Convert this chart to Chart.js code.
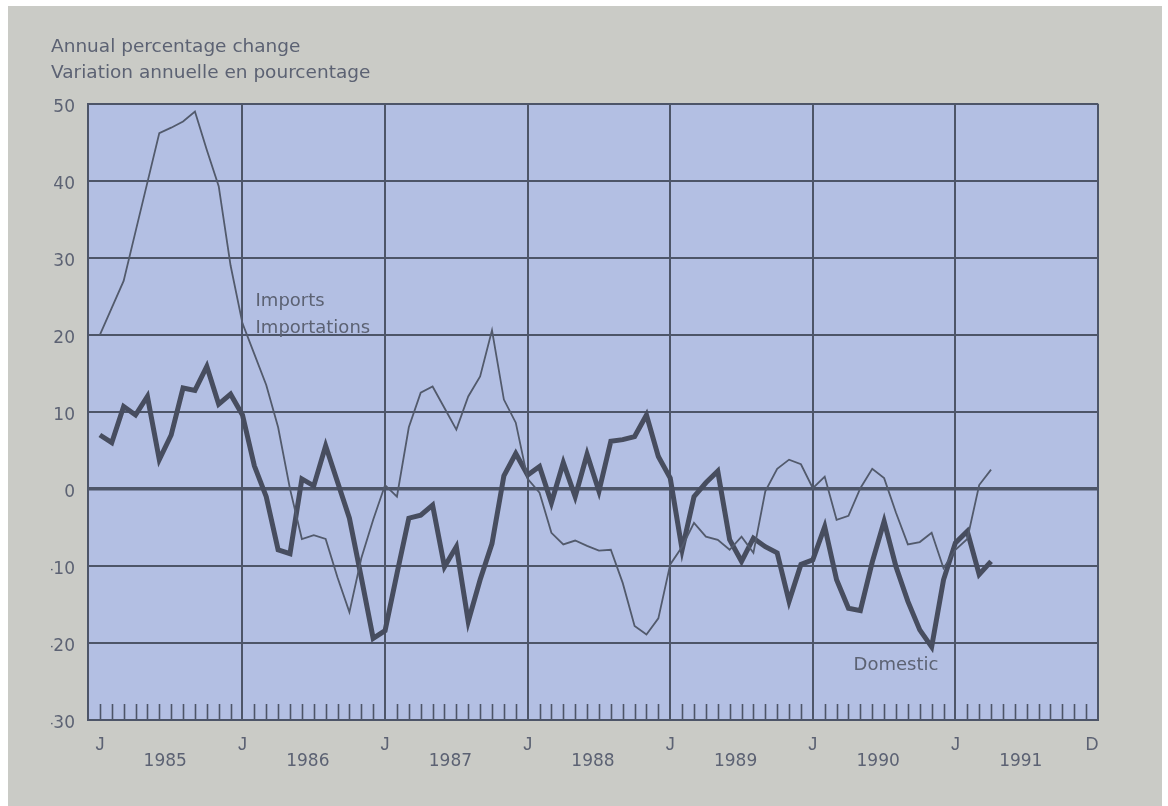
<!DOCTYPE html>
<html>
<head>
<meta charset="utf-8">
<script src="https://cdn.jsdelivr.net/npm/chart.js@4"></script>
<style>
  html, body { margin: 0; padding: 0; background: #ffffff; }
  #panel { position: absolute; left: 8px; top: 6px; width: 1154px; height: 800px; background: #cacbc6; }
  #chart { position: absolute; left: 0; top: 0; }
</style>
</head>
<body>
<div id="panel"></div>
<canvas id="chart" width="1168" height="806"></canvas>
<script>
// Monthly values, Jan 1985 (index 0) to Apr 1991
const domestic = [
  7, 6, 10.7, 9.6, 12, 3.8, 7, 13.1, 12.8, 15.9, 11, 12.3,
  9.6, 3, -1, -7.9, -8.4, 1.3, 0.4, 5.6, 0.9, -3.8, -11.5, -19.4,
  -18.4, -11, -3.8, -3.4, -2.1, -10.1, -7.5, -17.2, -11.8, -7.1, 1.7, 4.6,
  1.8, 2.9, -1.8, 3.4, -1, 4.5, -0.3, 6.2, 6.4, 6.8, 9.6, 4.2,
  1.4, -7.9, -1, 0.8, 2.3, -6.6, -9.4, -6.4, -7.5, -8.3, -14.6, -9.8,
  -9.2, -4.9, -11.8, -15.5, -15.8, -9.5, -4.2, -10.1, -14.6, -18.3, -20.5, -11.8,
  -7, -5.5, -11.1, -9.4
];
const imports = [
  20, 23.5, 27, 33.4, 39.8, 46.2, 46.9, 47.7, 49, 44, 39.3, 29,
  21.5, 17.5, 13.5, 8, 0, -6.5, -6, -6.5, -11.5, -16, -9, -4,
  0.5, -1, 8, 12.5, 13.3, 10.5, 7.7, 12, 14.6, 20.6, 11.6, 8.6,
  1.3, -0.5, -5.7, -7.2, -6.7, -7.4, -8, -7.9, -12.2, -17.8, -18.9, -16.8,
  -9.8, -7.5, -4.4, -6.2, -6.6, -7.9, -6.2, -8.3, -0.3, 2.6, 3.8, 3.2,
  0.1, 1.6, -4, -3.5, 0.1, 2.6, 1.4, -3.1, -7.2, -6.9, -5.7, -10.3,
  -7.9, -6.5, 0.5, 2.5
];
const years = ['1985', '1986', '1987', '1988', '1989', '1990', '1991'];
const yTicks = [-30, -20, -10, 0, 10, 20, 30, 40, 50];

const lineColor = '#4d5568';
const textColor = '#5c6273';

Chart.defaults.font.family = 'DejaVu Sans';
Chart.defaults.color = textColor;

// light blue plot background
const plotBg = {
  id: 'plotBg',
  beforeDraw(chart) {
    const { ctx, chartArea: a } = chart;
    ctx.save();
    ctx.fillStyle = '#b3bfe3';
    ctx.fillRect(a.left, a.top, a.right - a.left, a.bottom - a.top);
    ctx.restore();
  }
};

// small monthly tick marks along the bottom edge
const monthTicks = {
  id: 'monthTicks',
  beforeDatasetsDraw(chart) {
    const { ctx, chartArea: a, scales: { x } } = chart;
    ctx.save();
    ctx.strokeStyle = lineColor;
    ctx.lineWidth = 1.6;
    ctx.beginPath();
    for (let m = 0; m < 84; m++) {
      if (m > 0 && m % 12 === 0) continue;
      const px = Math.round(x.getPixelForValue(m)) + 0.5;
      ctx.moveTo(px, a.bottom);
      ctx.lineTo(px, a.bottom - 16);
    }
    ctx.stroke();
    ctx.restore();
  }
};

// series names written inside the plot
const seriesLabels = {
  id: 'seriesLabels',
  afterDatasetsDraw(chart) {
    const { ctx, scales: { x, y } } = chart;
    ctx.save();
    ctx.fillStyle = textColor;
    ctx.font = '18px "DejaVu Sans"';
    ctx.textBaseline = 'middle';
    ctx.textAlign = 'left';
    ctx.fillText('Imports', x.getPixelForValue(13.1), y.getPixelForValue(24.4));
    ctx.fillText('Importations', x.getPixelForValue(13.1), y.getPixelForValue(20.8));
    ctx.textAlign = 'center';
    ctx.fillText('Domestic', x.getPixelForValue(67), y.getPixelForValue(-22.9));
    ctx.restore();
  }
};

const toPoints = arr => arr.map((v, i) => ({ x: i, y: v }));

new Chart(document.getElementById('chart'), {
  type: 'line',
  data: {
    datasets: [
      {
        label: 'Imports',
        data: toPoints(imports),
        borderColor: '#525a6c',
        borderWidth: 1.8,
        pointRadius: 0,
        tension: 0
      },
      {
        label: 'Domestic',
        data: toPoints(domestic),
        borderColor: '#474d5f',
        borderWidth: 5,
        pointRadius: 0,
        tension: 0
      }
    ]
  },
  options: {
    responsive: false,
    animation: false,
    devicePixelRatio: 1,
    layout: { padding: { left: 51, right: 70, top: 0, bottom: 0 } },
    plugins: {
      legend: { display: false },
      tooltip: { enabled: false },
      title: {
        display: true,
        text: ['Annual percentage change', 'Variation annuelle en pourcentage'],
        align: 'start',
        color: textColor,
        font: { size: 18.5, weight: 'normal', lineHeight: 1.4 },
        padding: { top: 34, bottom: 18 }
      }
    },
    scales: {
      x: {
        type: 'linear',
        position: 'bottom',
        min: -1,
        max: 84,
        afterBuildTicks: s => {
          const t = [];
          for (let k = 0; k < years.length; k++) t.push({ value: k * 12 });
          t.push({ value: 83.5 }, { value: 84 });
          s.ticks = t;
        },
        afterFit: s => { s.height = 30; },
        ticks: {
          autoSkip: false,
          maxRotation: 0,
          padding: 14,
          font: { family: 'Liberation Sans', size: 18 },
          callback: v => (v === 84 ? '' : v === 83.5 ? 'D' : 'J')
        },
        grid: {
          drawTicks: false,
          lineWidth: 2,
          color: c => {
            const v = c.tick ? c.tick.value : 0;
            return (v > 0 && v % 12 === 0) || v === 84 ? lineColor : 'rgba(0,0,0,0)';
          }
        },
        border: { display: true, color: lineColor, width: 2 }
      },
      years: {
        type: 'linear',
        position: 'bottom',
        min: -1,
        max: 84,
        afterBuildTicks: s => {
          s.ticks = years.map((_, k) => ({ value: k * 12 + 5.5 }));
        },
        afterFit: s => { s.height = 56; },
        ticks: {
          autoSkip: false,
          maxRotation: 0,
          padding: 1,
          font: { size: 17 },
          callback: v => years[Math.round((v - 5.5) / 12)]
        },
        grid: { display: false, drawTicks: false },
        border: { display: false }
      },
      y: {
        min: -30,
        max: 50,
        afterBuildTicks: s => { s.ticks = yTicks.map(v => ({ value: v })); },
        afterFit: s => { s.width = 37; },
        ticks: {
          padding: 13,
          labelOffset: 4,
          font: { size: 17 },
          callback: v => String(v)
        },
        grid: {
          drawTicks: false,
          color: lineColor,
          lineWidth: c => (c.tick && c.tick.value === 0 ? 3.5 : 2)
        },
        border: { display: true, color: lineColor, width: 2 }
      }
    }
  },
  plugins: [plotBg, monthTicks, seriesLabels]
});
</script>
</body>
</html>
